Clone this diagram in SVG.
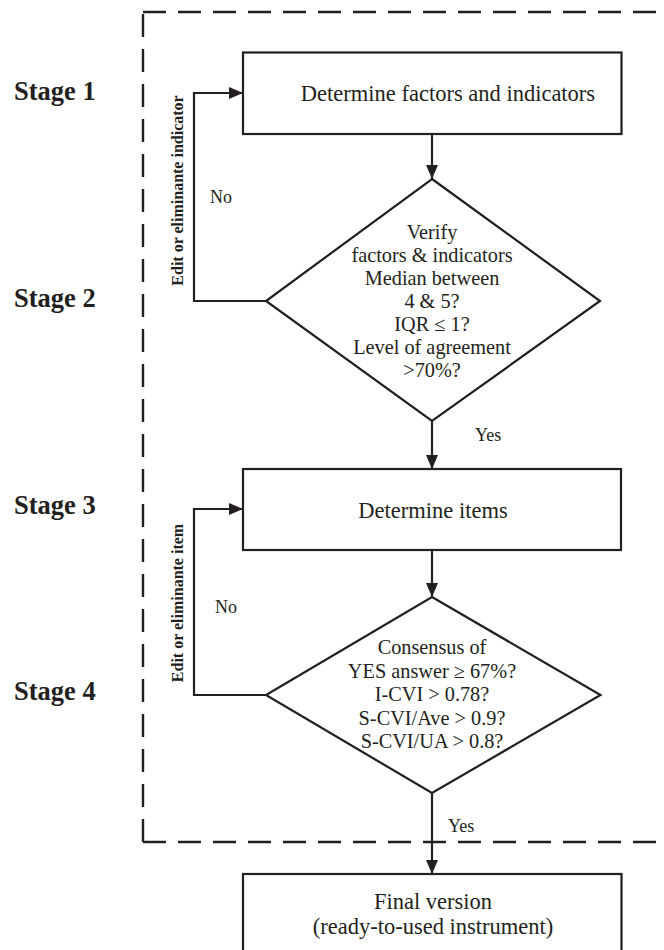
<svg xmlns="http://www.w3.org/2000/svg" width="664" height="950" viewBox="0 0 664 950">
<defs>
<marker id="arr" viewBox="0 0 14 12" refX="14" refY="6" markerWidth="14" markerHeight="12" markerUnits="userSpaceOnUse" orient="auto">
<path d="M0,0 L14,6 L0,12 Z" fill="#231f20"/>
</marker>
<style>
.shape{fill:#fff;stroke:#231f20;stroke-width:2.2}
.line{fill:none;stroke:#231f20;stroke-width:2.2}
.dash{fill:none;stroke:#231f20;stroke-width:2.4;stroke-dasharray:23 12}
.t{font-family:"Liberation Serif","Times New Roman",serif;fill:#231f20;text-anchor:middle}
.box{font-size:22.5px}
.dia{font-size:20.3px}
.lbl{font-family:"Liberation Serif","Times New Roman",serif;fill:#231f20;font-size:18px}
.stage{font-family:"Liberation Serif","Times New Roman",serif;fill:#231f20;font-size:26.5px;font-weight:bold}
.rot{font-family:"Liberation Serif","Times New Roman",serif;fill:#231f20;font-size:16px;font-weight:bold;text-anchor:middle}
</style>
</defs>
<rect width="664" height="950" fill="#fff"/>
<g id="frame">
<path class="dash" d="M143,12 L680,12"/>
<path class="dash" d="M143,842 L143,12"/>
<path class="dash" d="M143,842 L680,842"/>
</g>
<g id="stages">
<text class="stage" x="14" y="99.5">Stage 1</text>
<text class="stage" x="14" y="306.5">Stage 2</text>
<text class="stage" x="14" y="513.5">Stage 3</text>
<text class="stage" x="14" y="700">Stage 4</text>
</g>
<g id="connectors">
<path class="line" d="M432,134 L432,179" marker-end="url(#arr)"/>
<path class="line" d="M432,421 L432,469" marker-end="url(#arr)"/>
<path class="line" d="M432,550 L432,597" marker-end="url(#arr)"/>
<path class="line" d="M432,793 L432,874" marker-end="url(#arr)"/>
<path class="line" d="M266,301 L194,301 L194,93 L243,93" marker-end="url(#arr)"/>
<path class="line" d="M266,695 L194,695 L194,509 L243,509" marker-end="url(#arr)"/>
<text class="lbl" x="210" y="203">No</text>
<text class="lbl" x="215" y="613">No</text>
<text class="lbl" x="475" y="441">Yes</text>
<text class="lbl" x="448" y="832">Yes</text>
<text class="rot" transform="translate(182.5,190.5) rotate(-90)">Edit or eliminante indicator</text>
<text class="rot" transform="translate(182.5,603) rotate(-90)">Edit or eliminante item</text>
</g>
<g id="box1">
<rect class="shape" x="243" y="52.5" width="378.5" height="81.5"/>
<text class="t box" x="448" y="101">Determine factors and indicators</text>
</g>
<g id="diamond1">
<polygon class="shape" points="432,179 600,301 432,421 266,301"/>
<text class="t dia" x="432" y="238.5">Verify</text>
<text class="t dia" x="432" y="261.5">factors &amp; indicators</text>
<text class="t dia" x="432" y="284.5">Median between</text>
<text class="t dia" x="432" y="308">4 &amp; 5?</text>
<text class="t dia" x="432" y="331">IQR ≤ 1?</text>
<text class="t dia" x="432" y="354">Level of agreement</text>
<text class="t dia" x="432" y="377">&gt;70%?</text>
</g>
<g id="box2">
<rect class="shape" x="243" y="469" width="378" height="81"/>
<text class="t box" x="433" y="518">Determine items</text>
</g>
<g id="diamond2">
<polygon class="shape" points="432,597 600.5,695 432,793 266,695"/>
<text class="t dia" x="432" y="654">Consensus of</text>
<text class="t dia" x="432" y="677.5">YES answer ≥ 67%?</text>
<text class="t dia" x="432" y="701">I-CVI &gt; 0.78?</text>
<text class="t dia" x="432" y="724.5">S-CVI/Ave &gt; 0.9?</text>
<text class="t dia" x="432" y="747.5">S-CVI/UA &gt; 0.8?</text>
</g>
<g id="box3">
<rect class="shape" x="243" y="874" width="378.5" height="90"/>
<text class="t box" x="433" y="908.5">Final version</text>
<text class="t box" x="433" y="933.5">(ready-to-used instrument)</text>
</g>
</svg>
